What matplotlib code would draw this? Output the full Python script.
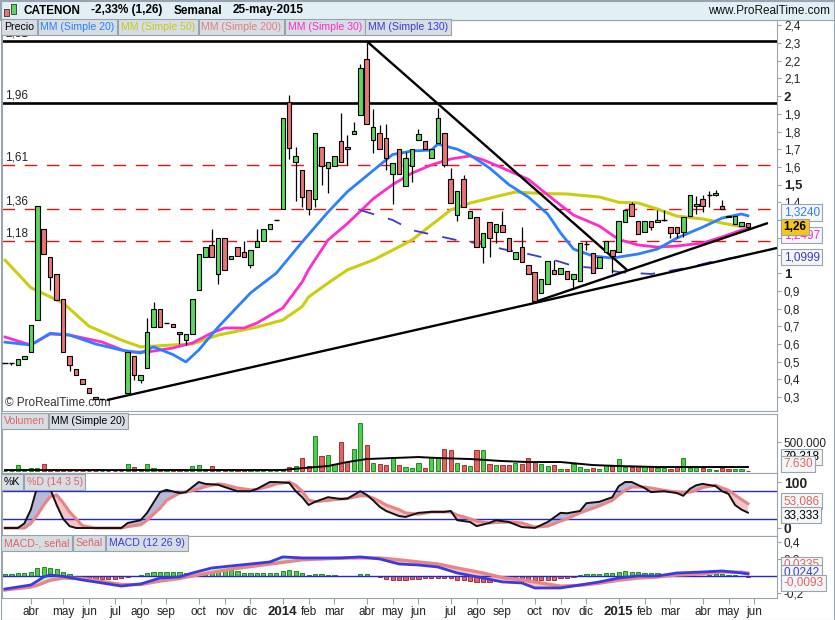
import numpy as np
import pandas as pd
import matplotlib
matplotlib.use("Agg")
import matplotlib.pyplot as plt
from matplotlib.patches import Rectangle

plt.rcParams['font.family'] = ['Liberation Sans', 'DejaVu Sans']

W, H = 835, 620
nan = np.nan

# weekly bars (monday dates), one week of july 2013 is missing in the feed
weeks = pd.date_range('2013-03-04', '2015-06-01', freq='W-MON')
weeks = weeks[weeks != pd.Timestamp('2013-07-22')]
meses = ['ene', 'feb', 'mar', 'abr', 'may', 'jun', 'jul', 'ago', 'sep', 'oct', 'nov', 'dic']

# ---- price data ----
opens = [0.49, 0.49, 0.48, 0.515, 0.555, 0.735, 1.25, 1.09, 0.995, 0.855, 0.53, 0.458, 0.40, 0.35, 0.30, 0.29,
         nan, nan, nan, 0.323, 0.532, 0.396, 0.464, 0.695, 0.797, 0.718, 0.71, 0.667, 0.622, 0.656,
         0.905, 1.091, 1.159, 0.995, 1.198, 1.08, 1.147, 1.12, 1.046, 1.147, 1.181, 1.249, 1.30, 1.362,
         1.967, 1.628, 1.582, 1.469, 1.419, 1.713, 1.594, 1.605, 1.746, 1.713, 1.786, 1.893, 2.21, 1.752,
         1.791, 1.763, 1.56, 1.70, 1.492, 1.605, 1.752, 1.746, 1.65, 1.735, 1.791, 1.532, 1.328, 1.532,
         1.311, 1.317, 1.147, 1.289, 1.232, 1.272, 1.198, 1.08, 1.147, 1.046, 1.006, 0.888, 0.938, 1.018,
         0.995, 1.012, 0.967, 0.955, 1.164, 1.114, 1.029, 1.119, 1.13, 1.12, 1.289, 1.39, 1.294, 1.232,
         1.294, 1.289, 1.30, 1.26, 1.26, 1.232, 1.322, 1.379, 1.419, 1.441, 1.441, 1.379, 1.325, 1.275,
         1.265, 1.285]
closes = [0.49, 0.49, 0.515, 0.53, 0.705, 1.38, 1.11, 0.98, 0.85, 0.555, 0.48, 0.424, 0.374, 0.323, 0.29, 0.29,
          nan, nan, nan, 0.554, 0.424, 0.424, 0.667, 0.797, 0.695, 0.718, 0.695, 0.656, 0.656, 0.854,
          1.108, 1.147, 1.091, 1.198, 1.018, 1.097, 1.097, 1.091, 1.13, 1.181, 1.249, 1.277, 1.30, 1.876,
          1.707, 1.662, 1.43, 1.362, 1.791, 1.605, 1.628, 1.662, 1.628, 1.70, 1.803, 2.159, 1.842, 1.825,
          1.701, 1.65, 1.622, 1.56, 1.65, 1.70, 1.786, 1.70, 1.70, 1.876, 1.611, 1.396, 1.464, 1.373,
          1.351, 1.147, 1.227, 1.198, 1.277, 1.232, 1.125, 1.119, 1.063, 0.995, 0.842, 0.967, 1.068, 0.995,
          1.029, 0.967, 0.995, 1.17, 1.164, 1.001, 1.091, 1.181, 1.097, 1.294, 1.357, 1.322, 1.221, 1.294,
          1.26, 1.30, 1.30, 1.227, 1.227, 1.317, 1.441, 1.39, 1.379, 1.441, 1.453, 1.362, 1.315, 1.32,
          1.29, 1.26]
highs = [0.49, 0.49, 0.515, 0.53, 0.705, 1.38, 1.25, 1.09, 0.995, 0.855, 0.53, 0.458, 0.40, 0.35, 0.30, 0.29,
         nan, nan, nan, 0.554, 0.532, 0.424, 0.746, 0.837, 0.797, 0.718, 0.71, 0.667, 0.656, 0.854,
         1.108, 1.147, 1.249, 1.198, 1.198, 1.097, 1.147, 1.181, 1.13, 1.249, 1.249, 1.277, 1.30, 1.876,
         2.006, 1.71, 1.582, 1.469, 1.791, 1.713, 1.628, 1.662, 1.905, 1.78, 1.854, 2.18, 2.31, 1.927,
         1.837, 1.842, 1.622, 1.70, 1.684, 1.70, 1.814, 1.746, 1.70, 1.933, 1.791, 1.594, 1.464, 1.554,
         1.351, 1.317, 1.227, 1.289, 1.277, 1.351, 1.198, 1.119, 1.26, 1.046, 1.006, 0.967, 1.068, 1.074,
         1.029, 1.012, 0.995, 1.17, 1.181, 1.114, 1.091, 1.181, 1.13, 1.294, 1.357, 1.40, 1.294, 1.294,
         1.294, 1.357, 1.357, 1.26, 1.26, 1.317, 1.441, 1.436, 1.441, 1.464, 1.47, 1.413, 1.325, 1.32,
         1.29, 1.285]
lows = [0.49, 0.48, 0.48, 0.515, 0.555, 0.735, 1.11, 0.905, 0.85, 0.555, 0.447, 0.424, 0.374, 0.323, 0.29, 0.29,
        nan, nan, nan, 0.323, 0.396, 0.379, 0.464, 0.695, 0.695, 0.718, 0.695, 0.60, 0.594, 0.656,
        0.905, 1.091, 1.091, 0.938, 1.018, 1.08, 1.097, 1.091, 1.03, 1.147, 1.181, 1.249, 1.30, 1.362,
        1.645, 1.407, 1.373, 1.328, 1.373, 1.498, 1.452, 1.605, 1.628, 1.611, 1.786, 1.893, 1.842, 1.678,
        1.701, 1.583, 1.39, 1.56, 1.492, 1.515, 1.752, 1.70, 1.65, 1.735, 1.60, 1.396, 1.294, 1.373,
        1.311, 1.147, 1.057, 1.09, 1.17, 1.232, 1.125, 1.08, 1.063, 0.995, 0.842, 0.888, 0.938, 0.995,
        0.995, 0.967, 0.91, 0.955, 1.13, 1.001, 1.029, 1.119, 1.0, 1.12, 1.289, 1.322, 1.221, 1.232,
        1.243, 1.289, 1.294, 1.198, 1.198, 1.204, 1.322, 1.334, 1.345, 1.373, 1.436, 1.362, 1.315, 1.275,
        1.265, 1.25]

# volume in thousands of shares
volume_k = [5, 5, 98, 15, 57, 46, 126, 10, 10, 10, 5, 5, 5, 5, 5, 5, 0, 0, 0,
            115, 69, 29, 115, 57, 40, 10, 10, 10, 10, 86, 98, 29, 86, 29, 15, 15, 15, 10, 15, 15, 15, 10, 5,
            29, 69, 80, 218, 86, 598, 253, 270, 126, 506, 161, 374, 833, 443, 144,
            115, 98, 247, 98, 75, 57, 144, 46, 241, 247, 374, 356, 144, 98, 80,
            356, 356, 115, 98, 98, 98, 144, 115, 230, 161, 126, 80, 98, 29, 40, 115,
            69, 29, 46, 29, 98, 86, 201, 69, 69, 86, 86, 80, 46, 57, 29, 69,
            230, 57, 69, 57, 29, 17, 57, 29, 40, 40, 7.63]
vol_ma_x = [0, 43, 46, 50, 53, 56, 60, 64, 67, 72, 77, 81, 86, 91, 95, 101, 108, 115]
vol_ma_k = [17, 17, 50, 86, 155, 207, 224, 241, 224, 207, 172, 155, 155, 103, 86, 69, 69, 69]

# moving averages (sampled at bar index)
ma20_x = [0, 4, 7, 10, 14, 18, 21, 23, 26, 28, 30, 33, 38, 42, 46, 50, 53, 57, 60, 63,
          66, 67, 70, 72, 75, 78, 81, 84, 86, 88, 91, 94, 98, 101, 104, 108, 111, 114, 115]
ma20 = [0.61, 0.594, 0.66, 0.65, 0.60, 0.565, 0.549, 0.583, 0.54, 0.498, 0.566, 0.695, 0.888, 1.0, 1.176,
        1.345, 1.46, 1.58, 1.67, 1.69, 1.695, 1.729, 1.70, 1.667, 1.594, 1.50, 1.43, 1.334, 1.227, 1.136,
        1.097, 1.085, 1.108, 1.136, 1.198, 1.26, 1.311, 1.334, 1.324]
ma50_x = [0, 4, 9, 13, 18, 21, 26, 29, 33, 36, 39, 43, 46, 47, 50, 53, 57, 60, 63, 66,
          69, 72, 77, 79, 83, 87, 92, 95, 98, 101, 104, 108, 111, 114, 115]
ma50 = [1.074, 0.918, 0.831, 0.70, 0.622, 0.583, 0.594, 0.60, 0.65, 0.672, 0.695, 0.735, 0.811, 0.865,
        0.944, 1.018, 1.074, 1.13, 1.187, 1.272, 1.357, 1.396, 1.441, 1.458, 1.45, 1.447, 1.43, 1.40,
        1.396, 1.362, 1.322, 1.306, 1.283, 1.262, 1.258]
ma30_x = [0, 4, 7, 10, 15, 19, 22, 26, 29, 32, 34, 37, 39, 43, 46, 47, 50, 53, 57, 60,
          63, 66, 69, 72, 74, 77, 81, 85, 88, 92, 95, 98, 101, 104, 108, 111, 114, 115]
ma30 = [0.639, 0.594, 0.656, 0.65, 0.611, 0.554, 0.554, 0.577, 0.605, 0.662, 0.69, 0.69, 0.718, 0.803,
        0.95, 1.02, 1.187, 1.28, 1.42, 1.50, 1.565, 1.611, 1.645, 1.662, 1.64, 1.594, 1.53, 1.413,
        1.328, 1.266, 1.19, 1.159, 1.147, 1.153, 1.17, 1.204, 1.243, 1.2497]
ma130_x = [55, 60, 63, 67, 70, 74, 77, 81, 85, 88, 92, 95, 100, 106, 110, 115]
ma130 = [1.356, 1.30, 1.243, 1.21, 1.186, 1.164, 1.136, 1.108, 1.074, 1.04, 1.026, 1.006, 0.995,
         1.032, 1.07, 1.0999]

# drawn support / resistance
solid_levels = [2.31, 1.96]
dashed_levels = [1.61, 1.36, 1.18]
trend_lines = [((56, 2.31), (96.3, 1.017)),
               ((15.8, 0.283), (119.5, 1.142)),
               ((82, 0.837), (118.1, 1.283))]

# stochastic %K / %D (14 3 5)
sto_x = [0, 2, 3, 4, 5, 6, 7, 8, 9, 10, 11, 12, 14, 18, 19, 21, 22, 24, 25, 27,
         28, 30, 31, 33, 34, 36, 38, 39, 41, 42, 44, 45, 46, 47, 48, 50, 52, 53, 55, 56,
         57, 58, 59, 61, 62, 64, 66, 68, 69, 70, 72, 73, 75, 76, 78, 80, 82, 84, 86, 87,
         89, 90, 92, 94, 95, 96, 97, 99, 100, 102, 104, 105, 106, 107, 108, 110, 111, 112, 113, 114, 115]
sto_k = [0, 0, 10, 40, 90, 100, 85, 50, 20, 4, 0, 0, 0, 0, 11, 17, 33, 78, 83, 76,
         78, 100, 96, 94, 89, 80, 80, 85, 100, 100, 98, 80, 67, 50, 57, 67, 63, 64, 80, 72,
         60, 46, 37, 26, 24, 33, 35, 35, 37, 17, 13, 4, 11, 17, 13, 2, 0, 13, 33, 32,
         37, 54, 57, 67, 91, 100, 100, 87, 78, 80, 76, 70, 85, 93, 96, 91, 80, 74, 50, 40, 33.333]
sto_d = [0, 0, 0, 10, 28, 50, 68, 72, 55, 35, 20, 5, 0, 0, 3, 7, 17, 43, 60, 76,
         78, 85, 90, 96, 94, 87, 83, 84, 91, 96, 100, 93, 80, 61, 57, 60, 63, 64, 70, 70,
         65, 58, 50, 40, 33, 30, 35, 35, 35, 28, 20, 15, 11, 12, 13, 11, 2, 4, 15, 20,
         33, 38, 48, 60, 72, 82, 89, 89, 87, 82, 78, 77, 78, 82, 88, 93, 87, 82, 72, 62, 53.086]

# MACD (12 26 9)
macd_x = [0, 4, 5, 6, 7, 9, 12, 15, 18, 21, 24, 27, 29, 32, 35, 38, 41, 43, 46, 49,
          52, 55, 58, 61, 64, 67, 70, 74, 77, 80, 82, 86, 89, 92, 95, 98, 101, 104, 108, 111, 114, 115]
macd_line = [-0.153, -0.106, -0.06, -0.01, 0.012, -0.005, -0.047, -0.082, -0.118, -0.094,
             -0.024, -0.012, 0.035, 0.094, 0.118, 0.141, 0.165, 0.224, 0.212, 0.212,
             0.212, 0.224, 0.20, 0.141, 0.129, 0.106, 0.035, -0.024, -0.07, -0.082,
             -0.141, -0.141, -0.106, -0.07, -0.024, 0.0, 0.0, 0.035, 0.047, 0.059, 0.035, 0.0242]
macd_signal = [-0.165, -0.13, -0.11, -0.08, -0.05, -0.024, -0.03, -0.065, -0.1, -0.1,
               -0.06, -0.03, 0.0, 0.04, 0.08, 0.11, 0.14, 0.16, 0.19, 0.20,
               0.21, 0.212, 0.212, 0.19, 0.165, 0.141, 0.094, 0.035, -0.02, -0.047,
               -0.07, -0.12, -0.11, -0.085, -0.05, -0.025, -0.012, 0.012, 0.024, 0.047, 0.045, 0.0335]
macd_hist = [0.024, 0.024, 0.031, 0.031, 0.043, 0.09, 0.1, 0.094, 0.082, 0.05, 0.02, 0.0,
             -0.027, -0.039, -0.039, -0.039, -0.039, -0.039, -0.027, -0.01, -0.005,
             0.012, 0.031, 0.043, 0.043, 0.043, 0.043, 0.043, 0.031, 0.031, 0.063, 0.071, 0.078, 0.09,
             0.078, 0.071, 0.063, 0.031, 0.031, 0.031, 0.031, 0.031, 0.031, 0.059, 0.067, 0.059, 0.031,
             0.012, 0.02, 0.02, 0.012, 0.012, 0.004, 0.0, 0.0, 0.02, 0.02, 0.0,
             -0.016, -0.035, -0.047, -0.047, -0.047, -0.039, -0.039, -0.027, -0.027, -0.027, -0.02,
             -0.027, -0.047, -0.047, -0.059, -0.067, -0.067, -0.067, -0.059, -0.059, -0.051, -0.051,
             -0.051, -0.051, -0.051, -0.051, -0.051, -0.043, -0.027, -0.02, -0.012,
             0.012, 0.02, 0.02, 0.024, 0.031, 0.039, 0.043, 0.059, 0.051, 0.043, 0.031, 0.031, 0.031,
             0.024, 0.012, 0.012, 0.004, 0.0, 0.0, 0.0, 0.012, 0.02, 0.02, 0.012, 0.012, -0.004, -0.0093]

GREEN, RED = '#5cd65c', '#e87474'
GRID = '#9aa4ae'

o = np.array(opens); c = np.array(closes); hi = np.array(highs); lo = np.array(lows)
x = np.arange(len(o))
up = c >= o

fig = plt.figure(figsize=(W / 100, H / 100), dpi=100)
renderer = fig.canvas.get_renderer()


def panel(y0, y1):
    ax = fig.add_axes([2 / W, 1 - y1 / H, 775 / W, (y1 - y0) / H])
    ax.set_xlim(-0.46, 119.5)
    for s in ax.spines.values():
        s.set_color(GRID)
        s.set_linewidth(0.8)
    ax.yaxis.tick_right()
    ax.tick_params(axis='y', direction='out', length=3, pad=2, labelsize=8.5,
                   color=GRID, labelcolor='#222222')
    ax.tick_params(axis='x', bottom=False, labelbottom=False)
    return ax


def fmt(v, dec=1):
    s = f"{v:.{dec}f}".replace('.', ',')
    return s[:-2] if s.endswith(',0') else s


def value_box(ax, y, s, color, fc='#f4f6f8', bold=False):
    ax.text(1.0085, y, s, transform=ax.get_yaxis_transform(), ha='left', va='center',
            fontsize=8.5, color=color, fontweight='bold' if bold else 'normal', clip_on=False,
            zorder=10, bbox=dict(boxstyle='square,pad=0.18', fc=fc, ec=GRID, lw=0.8))


# ---------------- main price panel ----------------
ax = panel(20, 411)
ax.set_ylim(0.221, 2.43)
ticks = np.round(np.arange(0.3, 2.41, 0.1), 1)
ax.set_yticks(ticks)
# labels 1,1 - 1,3 sit under the value boxes
ax.set_yticklabels(['' if t in (1.1, 1.2, 1.3) else fmt(t) for t in ticks])
for lab, t in zip(ax.get_yticklabels(), ticks):
    if t in (1.0, 1.5, 2.0):
        lab.set_fontweight('bold')
        lab.set_fontsize(9.5)

for lv in solid_levels:
    ax.axhline(lv, color='black', lw=1.9, zorder=2)
for lv in dashed_levels:
    ax.axhline(lv, color='#e81010', lw=1.0, dashes=(9, 7), zorder=1)
for lv in solid_levels + dashed_levels:
    ax.text(3 / 775, lv + 0.012, fmt(lv, 2), transform=ax.get_yaxis_transform(),
            fontsize=8.5, color='#222222', va='bottom', ha='left', zorder=3)

ax.plot(ma50_x, ma50, color='#cccc10', lw=2.2, zorder=3, solid_capstyle='round')
ax.plot(ma30_x, ma30, color='#ff2ccc', lw=2.0, zorder=3)
ax.plot(ma20_x, ma20, color='#2a80ff', lw=2.0, zorder=3)
ax.plot(ma130_x, ma130, color='#3a3ad0', lw=1.3, dashes=(8, 8), zorder=3)

for (x0, y0), (x1, y1) in trend_lines:
    ax.plot([x0, x1], [y0, y1], color='black', lw=1.7, zorder=4, solid_capstyle='butt')

ok = ~np.isnan(o)
ax.vlines(x[ok], lo[ok], hi[ok], color='black', lw=0.9, zorder=5)
body = ok & (np.abs(c - o) > 0.001)
ax.bar(x[body], np.abs(c - o)[body], bottom=np.minimum(o, c)[body], width=0.7,
       color=np.where(up, GREEN, RED)[body], edgecolor='black', linewidth=0.8, zorder=6)
doji = ok & ~body
ax.hlines(c[doji], x[doji] - 0.4, x[doji] + 0.4, color='black', lw=1.0, zorder=6)

ax.text(0.004, 0.004, '\u00a9 ProRealTime.com', transform=ax.transAxes, fontsize=8.5,
        color='#333333', va='bottom', ha='left')

value_box(ax, 1.215, '1,2497', '#ff2ccc')
value_box(ax, 1.343, '1,3240', '#2a80ff')
value_box(ax, 1.262, '1,26', 'black', fc='#f5c518', bold=True)
value_box(ax, 1.090, '1,0999', '#3a3ad0')

# ---------------- volume ----------------
axv = panel(414, 473)
vol = np.array(volume_k) * 1000
axv.set_ylim(-34000, 983000)
axv.bar(x, vol, width=0.65, color=np.where(up, '#50cc50', '#e06464'),
        edgecolor=np.where(up, '#228b22', '#a83232'), linewidth=0.7, zorder=2)
axv.plot(vol_ma_x, np.array(vol_ma_k) * 1000, color='black', lw=1.4, zorder=3)
axv.set_yticks([500000])
axv.set_yticklabels(['500.000'])
value_box(axv, 240000, '79.318', 'black')
value_box(axv, 120000, '7.630', '#e06464')

# ---------------- stochastic ----------------
axs = panel(473, 536)
axs.set_ylim(-17.4, 119.6)
k = np.array(sto_k); d = np.array(sto_d)
axs.fill_between(sto_x, k, d, where=k >= d, interpolate=True, color='#b8b8da', lw=0, zorder=1)
axs.fill_between(sto_x, k, d, where=k < d, interpolate=True, color='#f5c4c4', lw=0, zorder=1)
axs.axhline(80, color='#2626d0', lw=1.0, zorder=2)
axs.axhline(20, color='#2626d0', lw=1.0, zorder=2)
axs.plot(sto_x, d, color='#e88585', lw=2.2, zorder=3)
axs.plot(sto_x, k, color='#111111', lw=1.4, zorder=4)
axs.set_yticks([0, 100])
axs.set_yticklabels(['0', '100'], fontweight='bold', fontsize=10)
value_box(axs, 58, '53,086', '#e06464')
value_box(axs, 28, '33,333', 'black')

# ---------------- MACD ----------------
axm = panel(536, 598)
axm.set_ylim(-0.259, 0.47)
hist = np.array(macd_hist)
axm.bar(x, hist, width=0.65, color=np.where(hist >= 0, '#50cc50', '#e06464'),
        edgecolor=np.where(hist >= 0, '#228b22', '#a83232'), linewidth=0.7, zorder=1)
ml = np.array(macd_line); sg = np.array(macd_signal)
axm.fill_between(macd_x, ml, sg, where=ml >= sg, interpolate=True, color='#c4eec4', lw=0, zorder=2)
axm.fill_between(macd_x, ml, sg, where=ml < sg, interpolate=True, color='#f5c4c4', lw=0, zorder=2)
axm.axhline(0, color='#2626d0', lw=1.0, zorder=2.5)
axm.plot(macd_x, sg, color='#e88585', lw=2.4, zorder=3)
axm.plot(macd_x, ml, color='#3a3ae0', lw=2.0, zorder=4)
axm.set_yticks([-0.2, 0.2, 0.4])
axm.set_yticklabels(['-0,2', '0,2', '0,4'])
value_box(axm, 0.13, '0,0335', '#e06464')
value_box(axm, 0.036, '0,0242', '#3a3ae0')
value_box(axm, -0.082, '-0,0093', '#e06464')

# month ticks at first bar of each month
tick_pos, tick_lab = [], []
for i in range(1, len(weeks)):
    if weeks[i].month != weeks[i - 1].month:
        tick_pos.append(i)
        tick_lab.append(str(weeks[i].year) if weeks[i].month == 1 else meses[weeks[i].month - 1])
axm.set_xticks(tick_pos)
axm.set_xticklabels(tick_lab)
axm.tick_params(axis='x', bottom=True, labelbottom=True, direction='out', length=4,
                color=GRID, labelsize=8.5, labelcolor='#222222', pad=2)
for lab in axm.get_xticklabels():
    if lab.get_text().isdigit():
        lab.set_fontweight('bold')
        lab.set_fontsize(9.5)

# ---------------- header / legends ----------------
fig.patches.append(Rectangle((0, 1 - 20 / H), 1, 20 / H, transform=fig.transFigure,
                             fc='#e2f0f6', ec=GRID, lw=0.8, zorder=0))
fig.patches.append(Rectangle((0.5 / W, 0.5 / H), 1 - 1.5 / W, 1 - 1 / H, transform=fig.transFigure,
                             fc='none', ec=GRID, lw=0.8, zorder=0))
fig.patches.append(Rectangle((4 / W, 1 - 16 / H), 5 / W, 7 / H, transform=fig.transFigure,
                             fc=RED, ec='#333333', lw=0.6))
fig.patches.append(Rectangle((11 / W, 1 - 14 / H), 5 / W, 10 / H, transform=fig.transFigure,
                             fc=GREEN, ec='#333333', lw=0.6))

hx = 23
for s in ['CATENON', '-2,33% (1,26)', 'Semanal', '25-may-2015']:
    t = fig.text(hx / W, 1 - 10.5 / H, s, fontsize=8.5, fontweight='bold', va='center', ha='left')
    hx = t.get_window_extent(renderer).x1 + 11
fig.text(830 / W, 1 - 11 / H, 'www.ProRealTime.com', fontsize=8.5, va='center', ha='right',
         color='#111111')


def legend_row(ypx, items, size=7.6):
    px = 4
    for s, col in items:
        t = fig.text(px / W, 1 - ypx / H, s, fontsize=size, color=col, va='center', ha='left',
                     bbox=dict(boxstyle='square,pad=0.25', fc='#d6dde3', ec='#98a2ac', lw=0.8))
        px = t.get_window_extent(renderer).x1 + 2 * 0.25 * size * 100 / 72 + 1


legend_row(27, [('Precio', 'black'), ('MM (Simple 20)', '#2a80ff'),
                ('MM (Simple 50)', '#c8c820'), ('MM (Simple 200)', '#e08080'),
                ('MM (Simple 30)', '#ff2ccc'), ('MM (Simple 130)', '#3a3ad0')])
legend_row(421, [('Volumen', '#e06464'), ('MM (Simple 20)', 'black')])
legend_row(482, [('%K', 'black'), ('%D (14 3 5)', '#e06464')])
legend_row(543, [('MACD-, se\u00f1al', '#e06464'), ('Se\u00f1al', '#e06464'),
                 ('MACD (12 26 9)', '#3a3ae0')])

fig.savefig('out.png', dpi=100)
